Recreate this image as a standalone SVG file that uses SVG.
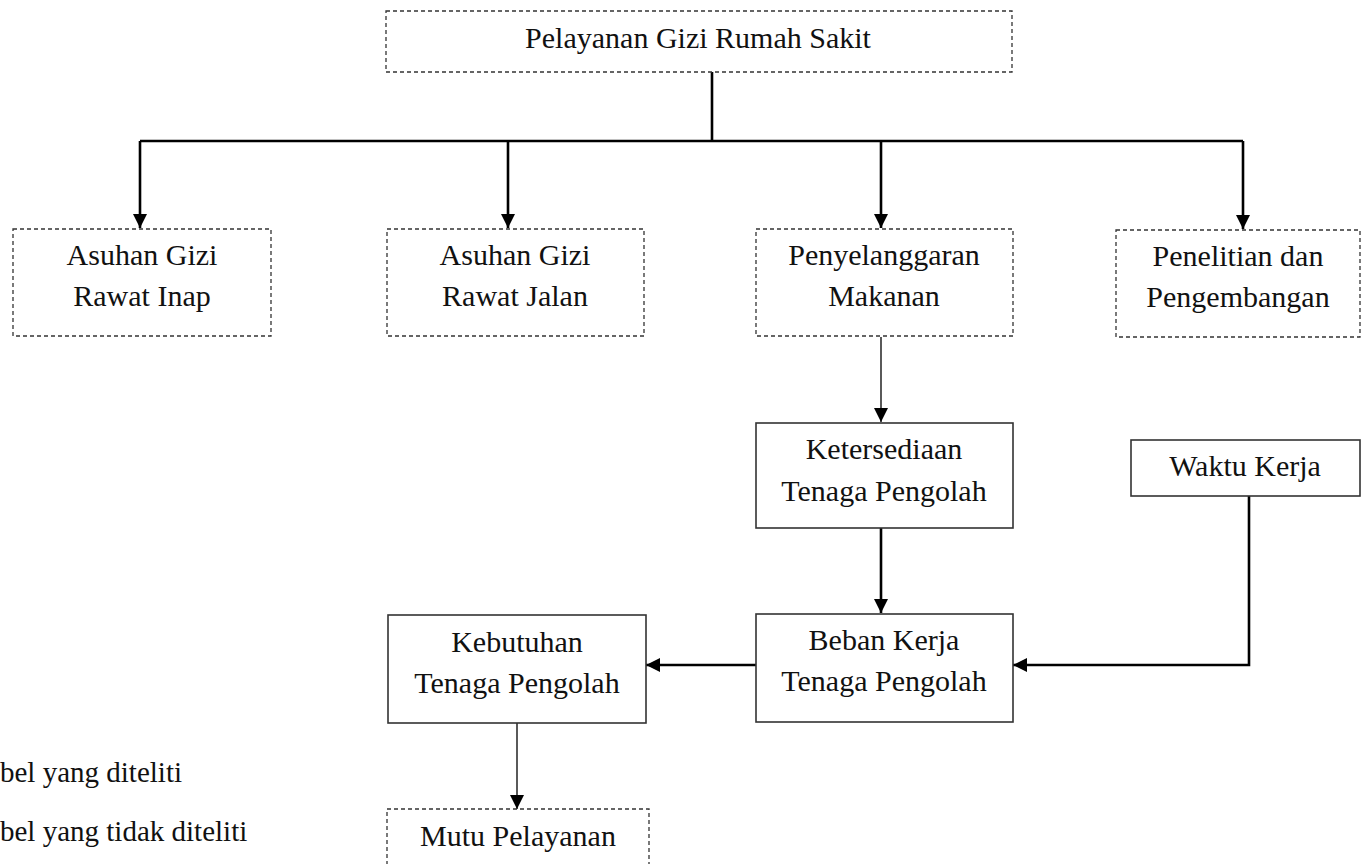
<svg xmlns="http://www.w3.org/2000/svg" width="1362" height="864" viewBox="0 0 1362 864">
<style>
text{font-family:"Liberation Serif","Times New Roman",serif;font-size:30px;fill:#111;text-anchor:middle}
.dash{fill:#fff;stroke:#333;stroke-width:1.3;stroke-dasharray:4 3}
.solid{fill:#fff;stroke:#333;stroke-width:1.6}
.thick{fill:none;stroke:#000;stroke-width:2.6}
.thin{fill:none;stroke:#000;stroke-width:1.3}
.legend{text-anchor:start;font-size:29px}
</style>
<defs>
<marker id="ah" markerUnits="userSpaceOnUse" markerWidth="15" markerHeight="15" refX="14" refY="7" orient="auto">
<path d="M0,0 L14,7 L0,14 z" fill="#000"/>
</marker>
</defs>
<rect width="1362" height="864" fill="#fff"/>
<g id="connectors">
<path class="thick" d="M712,72 V141 M140,141 H1243"/>
<path class="thick" d="M140,141 V228" marker-end="url(#ah)"/>
<path class="thick" d="M508,141 V228" marker-end="url(#ah)"/>
<path class="thick" d="M881,141 V228" marker-end="url(#ah)"/>
<path class="thick" d="M1243,141 V229" marker-end="url(#ah)"/>
<path class="thin" d="M881,337 V422" marker-end="url(#ah)"/>
<path class="thick" d="M881,528 V613" marker-end="url(#ah)"/>
<path class="thick" d="M1249,496 V665 H1013" marker-end="url(#ah)"/>
<path class="thick" d="M756,665 H646" marker-end="url(#ah)"/>
<path class="thin" d="M517,723 V809" marker-end="url(#ah)"/>
</g>
<g id="pelayanan">
<rect class="dash" x="386" y="11" width="626" height="61"/>
<text x="698" y="48">Pelayanan Gizi Rumah Sakit</text>
</g>
<g id="asuhan-inap">
<rect class="dash" x="13" y="229" width="258" height="107"/>
<text x="142" y="265">Asuhan Gizi</text>
<text x="142" y="306">Rawat Inap</text>
</g>
<g id="asuhan-jalan">
<rect class="dash" x="387" y="229" width="257" height="107"/>
<text x="515" y="265">Asuhan Gizi</text>
<text x="515" y="306">Rawat Jalan</text>
</g>
<g id="penyelenggaraan">
<rect class="dash" x="756" y="229" width="257" height="107"/>
<text x="884" y="265">Penyelanggaran</text>
<text x="884" y="306">Makanan</text>
</g>
<g id="penelitian">
<rect class="dash" x="1116" y="230" width="244" height="107"/>
<text x="1238" y="266">Penelitian dan</text>
<text x="1238" y="307">Pengembangan</text>
</g>
<g id="ketersediaan">
<rect class="solid" x="756" y="423" width="257" height="105"/>
<text x="884" y="459">Ketersediaan</text>
<text x="884" y="501">Tenaga Pengolah</text>
</g>
<g id="waktu">
<rect class="solid" x="1131" y="440" width="229" height="56"/>
<text x="1245" y="476">Waktu Kerja</text>
</g>
<g id="beban">
<rect class="solid" x="756" y="614" width="257" height="108"/>
<text x="884" y="650">Beban Kerja</text>
<text x="884" y="691">Tenaga Pengolah</text>
</g>
<g id="kebutuhan">
<rect class="solid" x="388" y="615" width="258" height="108"/>
<text x="517" y="652">Kebutuhan</text>
<text x="517" y="693">Tenaga Pengolah</text>
</g>
<g id="mutu">
<rect class="dash" x="387" y="809" width="262" height="60"/>
<text x="518" y="846">Mutu Pelayanan</text>
</g>
<g id="legend">
<text class="legend" x="0" y="782">bel yang diteliti</text>
<text class="legend" x="0" y="841">bel yang tidak diteliti</text>
</g>
</svg>
